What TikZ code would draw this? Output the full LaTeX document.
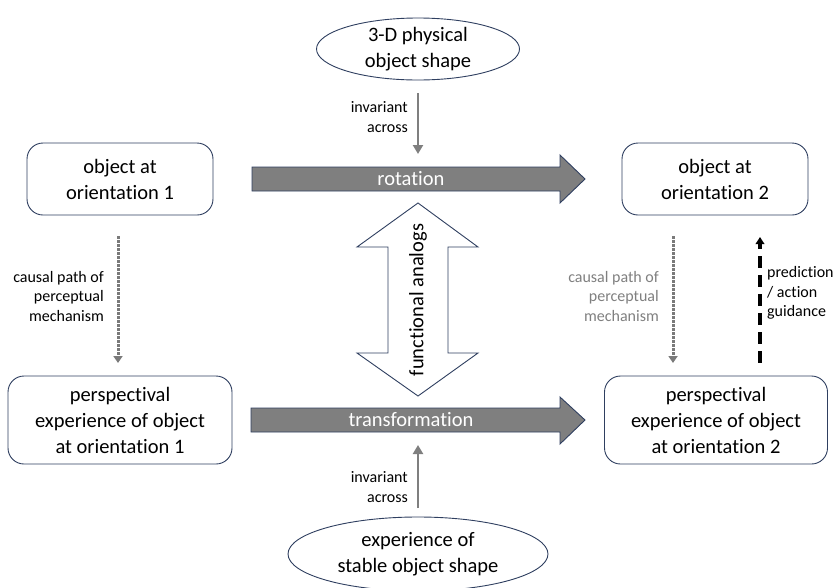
\documentclass[tikz,border=0pt]{standalone}
\usepackage{fontspec}
\setmainfont{Carlito}[Ligatures=NoCommon]
\usetikzlibrary{arrows.meta,shapes.geometric}
\definecolor{navy}{HTML}{2F3F60}
\definecolor{arrgray}{HTML}{7F7F7F}
\definecolor{dotgray}{HTML}{7A7A7A}
\tikzset{
  box/.style={draw=navy, line width=0.9pt, rounded corners=16pt, fill=white, align=center,
    font=\fontsize{20.5}{26}\selectfont, inner sep=0pt},
  oval/.style={draw=navy, line width=0.9pt, ellipse, fill=white, align=center,
    font=\fontsize{20.5}{26}\selectfont, inner sep=0pt},
  lbl/.style={font=\fontsize{16}{19.5}\selectfont, inner sep=0pt},
  bigarrow/.style={draw=navy, line width=0.9pt, fill=arrgray},
  inv/.style={draw=arrgray, line width=2.6pt, -{Triangle[length=9pt,width=10pt]}},
  causal/.style={draw=dotgray, line width=3pt, dash pattern=on 2.6pt off 1.4pt,
    -{Triangle[length=7pt,width=9pt]}},
  predict/.style={draw=black, line width=3.2pt, dash pattern=on 12pt off 7pt,
    -{Triangle[length=7pt,width=8.5pt]}},
}
\begin{document}
\begin{tikzpicture}[x=1pt,y=-1pt]
\useasboundingbox (0,0) rectangle (836,587);

% ellipses
\node[oval, minimum width=203pt, minimum height=62pt] (phys) at (418,49) {3-D physical\\object shape};
\node[oval, minimum width=260pt, minimum height=74pt] (stable) at (418,554) {experience of\\stable object shape};

% boxes
\node[box, minimum width=186pt, minimum height=72pt] (o1) at (120,179) {object at\\orientation 1};
\node[box, minimum width=186pt, minimum height=72pt] (o2) at (715,179) {object at\\orientation 2};
\node[box, minimum width=224pt, minimum height=88pt] (p1) at (120,420) {perspectival\\experience of object\\at orientation 1};
\node[box, minimum width=223pt, minimum height=88pt] (p2) at (716,420) {perspectival\\experience of object\\at orientation 2};

% big arrows
\draw[bigarrow] (252,167) -- (560,167) -- (560,155) -- (585,179) -- (560,203) -- (560,191) -- (252,191) -- cycle;
\node[font=\fontsize{20.5}{24}\selectfont, text=white] (rot) at (411,179) {rotation};
\draw[bigarrow] (251,408) -- (560,408) -- (560,397) -- (585,420) -- (560,444) -- (560,432) -- (251,432) -- cycle;
\node[font=\fontsize{20.5}{24}\selectfont, text=white] (trans) at (411,420) {transformation};

% double arrow
\draw[draw=navy, line width=0.9pt, fill=white] (418,203) -- (478,247) -- (448,247) -- (448,353) -- (478,353) -- (418,396) -- (357,353) -- (388,353) -- (388,247) -- (357,247) -- cycle;
\node[font=\fontsize{20.5}{24}\selectfont, rotate=90] (fa) at (418,300) {functional analogs};

% invariant arrows
\coordinate (invTopS) at (418,93);
\coordinate (invTopE) at (418,154);
\draw[inv] (invTopS) -- (invTopE);
\node[lbl, align=right, anchor=east] (invTopL) at (408,117) {invariant\\across};
\coordinate (invBotS) at (418,508);
\coordinate (invBotE) at (418,445);
\draw[inv] (invBotS) -- (invBotE);
\node[lbl, align=right, anchor=east] (invBotL) at (408,487) {invariant\\across};

% causal paths
\coordinate (c1s) at (118,236);
\coordinate (c1e) at (118,363);
\draw[causal] (c1s) -- (c1e);
\node[lbl, align=right, anchor=east] (c1l) at (104,296) {causal path of\\perceptual\\mechanism};
\coordinate (c2s) at (673,236);
\coordinate (c2e) at (673,363);
\draw[causal] (c2s) -- (c2e);
\node[lbl, align=right, anchor=east, text=arrgray] (c2l) at (659,296) {causal path of\\perceptual\\mechanism};

% prediction
\coordinate (pe) at (760,237);
\draw[predict] (p2.north -| pe) ++(0,-13) -- (pe);
\node[lbl, align=left, anchor=west] (pl) at (767,293) {prediction\\/ action\\guidance};
\end{tikzpicture}
\end{document}
